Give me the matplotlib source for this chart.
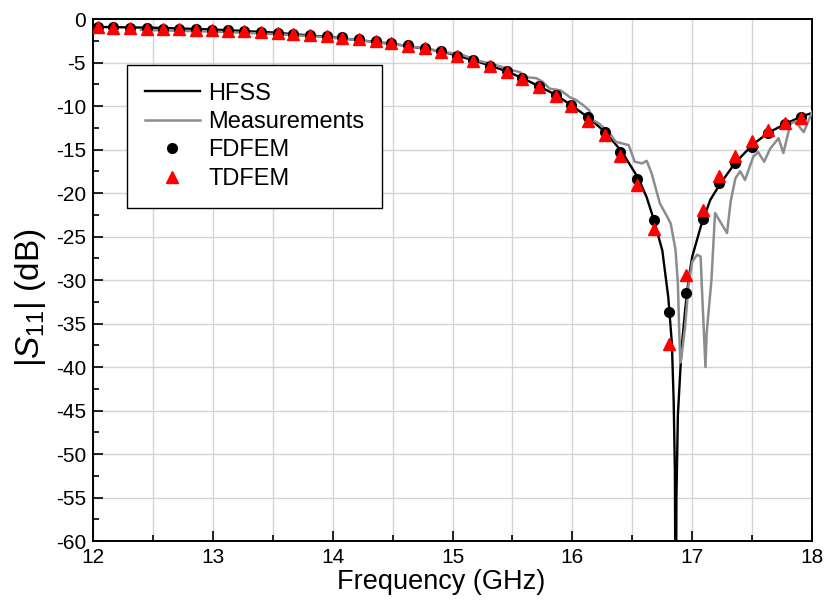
import numpy as np
import matplotlib
matplotlib.use("Agg")
import matplotlib.pyplot as plt
from matplotlib.ticker import MultipleLocator
from matplotlib import font_manager

plt.rcParams['font.family'] = ['Liberation Sans', 'DejaVu Sans']
plt.rcParams['axes.unicode_minus'] = False
plt.rcParams['mathtext.fontset'] = 'custom'
plt.rcParams['mathtext.rm'] = 'Liberation Sans'

# pick an available italic sans face for the italic S
_pref = ['Arimo', 'Liberation Sans', 'Arial', 'Helvetica', 'Nimbus Sans', 'Noto Sans',
         'Open Sans', 'Roboto', 'Lato', 'Inter', 'Source Sans 3', 'Source Sans Pro',
         'PT Sans', 'Fira Sans', 'DejaVu Sans']
_faces = [f for f in font_manager.fontManager.ttflist
          if f.style in ('italic', 'oblique') and f.weight == 400]
_it = None
for _name in _pref:
    _m = [f for f in _faces if f.name == _name]
    if _m:
        _it = f'{_name}:style={_m[0].style}'
        break
if _it is None:
    _m = [f for f in _faces if 'Sans' in f.name]
    if _m:
        _it = f'{_m[0].name}:style={_m[0].style}'
plt.rcParams['mathtext.it'] = _it or 'Liberation Sans'

# HFSS (smooth simulation curve)
hfss_f = [12.0, 12.5, 13.0, 13.5, 14.0, 14.5, 14.9, 15.05, 15.2, 15.3, 15.45, 15.6,
          15.73, 15.86, 16.0, 16.13, 16.27, 16.41, 16.55, 16.62, 16.68, 16.75, 16.80,
          16.83, 16.845, 16.855, 16.862, 16.868, 16.88, 16.91, 16.94, 16.97, 17.0, 17.07,
          17.15, 17.23, 17.36, 17.5, 17.63, 17.77, 17.91, 18.0]
hfss_db = [-0.9, -1.0, -1.2, -1.55, -2.1, -2.85, -3.7, -4.25, -4.85, -5.3, -6.0, -6.9,
           -7.8, -8.7, -10.0, -11.3, -12.95, -15.2, -18.3, -20.5, -23.1, -26.6, -32.0,
           -37.3, -44.0, -52.0, -75.0, -55.0, -45.5, -38.0, -33.5, -29.8, -27.3, -23.9,
           -20.8, -19.0, -16.5, -14.5, -13.1, -12.1, -11.2, -10.8]

# Measurements
meas_f = [12.40, 12.70, 13.00, 13.30, 13.60, 13.90, 14.20, 14.40, 14.60, 14.80, 15.00,
          15.06, 15.20, 15.31, 15.45, 15.50, 15.56, 15.62, 15.70, 15.75, 15.81, 15.90,
          15.98, 16.03, 16.09, 16.14, 16.17, 16.22, 16.31, 16.36, 16.47, 16.52, 16.58,
          16.62, 16.66, 16.73, 16.79, 16.82, 16.86, 16.88, 16.89, 16.90, 16.91, 16.94,
          16.97, 17.00, 17.04, 17.07, 17.08, 17.11, 17.12, 17.16, 17.19, 17.29, 17.32,
          17.36, 17.40, 17.44, 17.51, 17.55, 17.60, 17.65, 17.72, 17.76, 17.82, 17.86,
          17.93, 18.00]
meas_db = [-1.25, -1.35, -1.45, -1.6, -1.8, -2.05, -2.4, -2.75, -3.05, -3.45, -3.95,
           -4.0, -4.75, -5.1, -5.67, -5.9, -6.1, -6.7, -6.8, -7.2, -8.0, -8.2,
           -9.0, -9.3, -9.9, -10.5, -11.6, -12.0, -13.1, -14.1, -14.5, -16.4, -16.6,
           -16.3, -17.7, -21.2, -22.7, -23.5, -26.5, -30.4, -35.4, -39.5, -38.8, -35.4,
           -30.4, -27.9, -27.1, -27.3, -30.8, -40.0, -36.1, -30.0, -22.3, -24.6, -21.0,
           -18.3, -17.5, -18.5, -15.8, -15.3, -16.4, -14.9, -13.7, -15.4, -12.0, -11.8,
           -13.0, -10.7]

# FDFEM / TDFEM sample points
fem_f = [12.04, 12.17, 12.31, 12.45, 12.58, 12.72, 12.86, 12.99, 13.13, 13.26, 13.40,
         13.54, 13.67, 13.81, 13.95, 14.08, 14.22, 14.36, 14.49, 14.63, 14.77, 14.90,
         15.04, 15.17, 15.31, 15.45, 15.58, 15.72, 15.86, 15.99, 16.13, 16.27, 16.40,
         16.54, 16.68, 16.81, 16.95, 17.09, 17.22, 17.36, 17.50, 17.63, 17.77, 17.91]
fdfem_db = [-0.9, -0.95, -1.0, -1.05, -1.1, -1.12, -1.17, -1.22, -1.3, -1.38, -1.47,
            -1.57, -1.67, -1.8, -1.95, -2.1, -2.3, -2.5, -2.75, -3.0, -3.3, -3.7,
            -4.2, -4.75, -5.35, -6.0, -6.8, -7.7, -8.7, -9.9, -11.3, -13.0, -15.3,
            -18.4, -23.1, -33.7, -31.5, -23.0, -18.9, -16.5, -14.7, -13.1, -12.1, -11.3]
tdfem_db = [-0.95, -1.0, -1.05, -1.1, -1.15, -1.17, -1.22, -1.27, -1.35, -1.43, -1.52,
            -1.62, -1.72, -1.85, -2.0, -2.15, -2.35, -2.55, -2.8, -3.05, -3.35, -3.75,
            -4.25, -4.8, -5.4, -6.05, -6.9, -7.8, -8.8, -10.05, -11.7, -13.3, -15.8,
            -19.1, -24.1, -37.3, -29.4, -22.0, -18.1, -15.7, -14.0, -12.7, -12.0, -11.4]

xticks = [12, 13, 14, 15, 16, 17, 18]
yticks = [0, -5, -10, -15, -20, -25, -30, -35, -40, -45, -50, -55, -60]

fig = plt.figure(figsize=(8.27, 6.02), dpi=100)
ax = fig.add_axes([0.1125, 0.1013, 0.8695, 0.8671])

ax.plot(hfss_f, hfss_db, color='black', lw=1.7, label='HFSS', zorder=3)
ax.plot(meas_f, meas_db, color='#8c8c8c', lw=1.8, label='Measurements', zorder=4)
ax.plot(fem_f, fdfem_db, ls='none', marker='o', ms=7, color='black', label='FDFEM', zorder=5)
ax.plot(fem_f, tdfem_db, ls='none', marker='^', ms=8, color='red', mec='red', label='TDFEM', zorder=6)

ax.set_xlim(12, 18)
ax.set_ylim(-60, 0)
ax.set_xticks(xticks)
ax.set_yticks(yticks)
ax.xaxis.set_minor_locator(MultipleLocator(0.5))
ax.yaxis.set_minor_locator(MultipleLocator(2.5))
ax.grid(True, which='major', axis='both', color='#d4d4d4', lw=1.0, zorder=0)
ax.grid(True, which='minor', axis='x', color='#d4d4d4', lw=1.0, zorder=0)
ax.set_axisbelow(True)
ax.tick_params(which='major', direction='in', length=7, width=1.2, labelsize=15,
               top=False, right=False, pad=5)
ax.tick_params(which='minor', direction='in', length=4.5, width=1.2, top=False, right=False)
for s in ax.spines.values():
    s.set_linewidth(1.4)

ax.set_xlabel('Frequency (GHz)', fontsize=19.5)
ax.xaxis.set_label_coords(0.484, -0.053)
ax.set_ylabel(r'|$S_{11}$| (dB)', fontsize=24)
ax.yaxis.set_label_coords(-0.062, 0.466)

leg = ax.legend(loc='upper left', bbox_to_anchor=(0.047, 0.912), fontsize=17,
                frameon=True, fancybox=False, edgecolor='black', framealpha=1,
                numpoints=1, handlelength=2.35, handletextpad=0.35,
                labelspacing=0.27, borderpad=0.75, borderaxespad=0)
leg.get_frame().set_linewidth(1.0)

fig.savefig('out.png', dpi=100)
